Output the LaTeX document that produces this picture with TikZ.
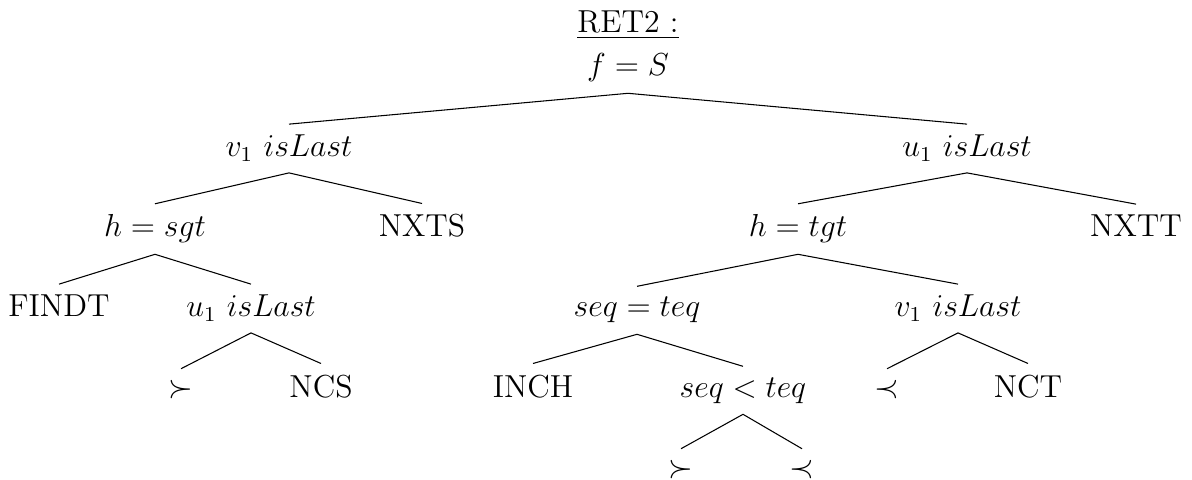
\documentclass[tikz,12pt,border=0pt]{standalone}
\begin{document}
\begin{tikzpicture}[x=0.3774pt,y=-0.3774pt,every node/.style={anchor=base}]
    \useasboundingbox (0,0) rectangle (1192,480);
    \node (title) at (628,33) {\underline{RET2 :}};
    \node (root) at (628,76) {$f = S$};
    % level 1
    \node (vlast) at (289,157) {$v_1\ isLast$};
    \node (ulast) at (967,157) {$u_1\ isLast$};
    % level 2
    \node (hsgt) at (155,237) {$h = sgt$};
    \node (nxts) at (422,237) {NXTS};
    \node (htgt) at (798,237) {$h = tgt$};
    \node (nxtt) at (1136,237) {NXTT};
    % level 3
    \node (findt) at (59,317) {FINDT};
    \node (ulastb) at (251,317) {$u_1\ isLast$};
    \node (seqeq) at (637,317) {$seq = teq$};
    \node (vlastb) at (958,317) {$v_1\ isLast$};
    % level 4
    \node (succa) at (181,397) {$\succ$};
    \node (ncs) at (321,397) {NCS};
    \node (inch) at (533,397) {INCH};
    \node (seqlt) at (743,397) {$seq < teq$};
    \node (preca) at (887,397) {$\prec$};
    \node (nct) at (1028,397) {NCT};
    % level 5
    \node (succb) at (681,477) {$\succ$};
    \node (precb) at (802,477) {$\prec$};
    \foreach \p/\c in {root/vlast, root/ulast, vlast/hsgt, vlast/nxts,
        ulast/htgt, ulast/nxtt, hsgt/findt, hsgt/ulastb, htgt/seqeq,
        htgt/vlastb, ulastb/succa, ulastb/ncs, seqeq/inch, seqeq/seqlt,
        vlastb/preca, vlastb/nct, seqlt/succb, seqlt/precb}
        \draw (\p.south) -- (\c.north);
\end{tikzpicture}
\end{document}
